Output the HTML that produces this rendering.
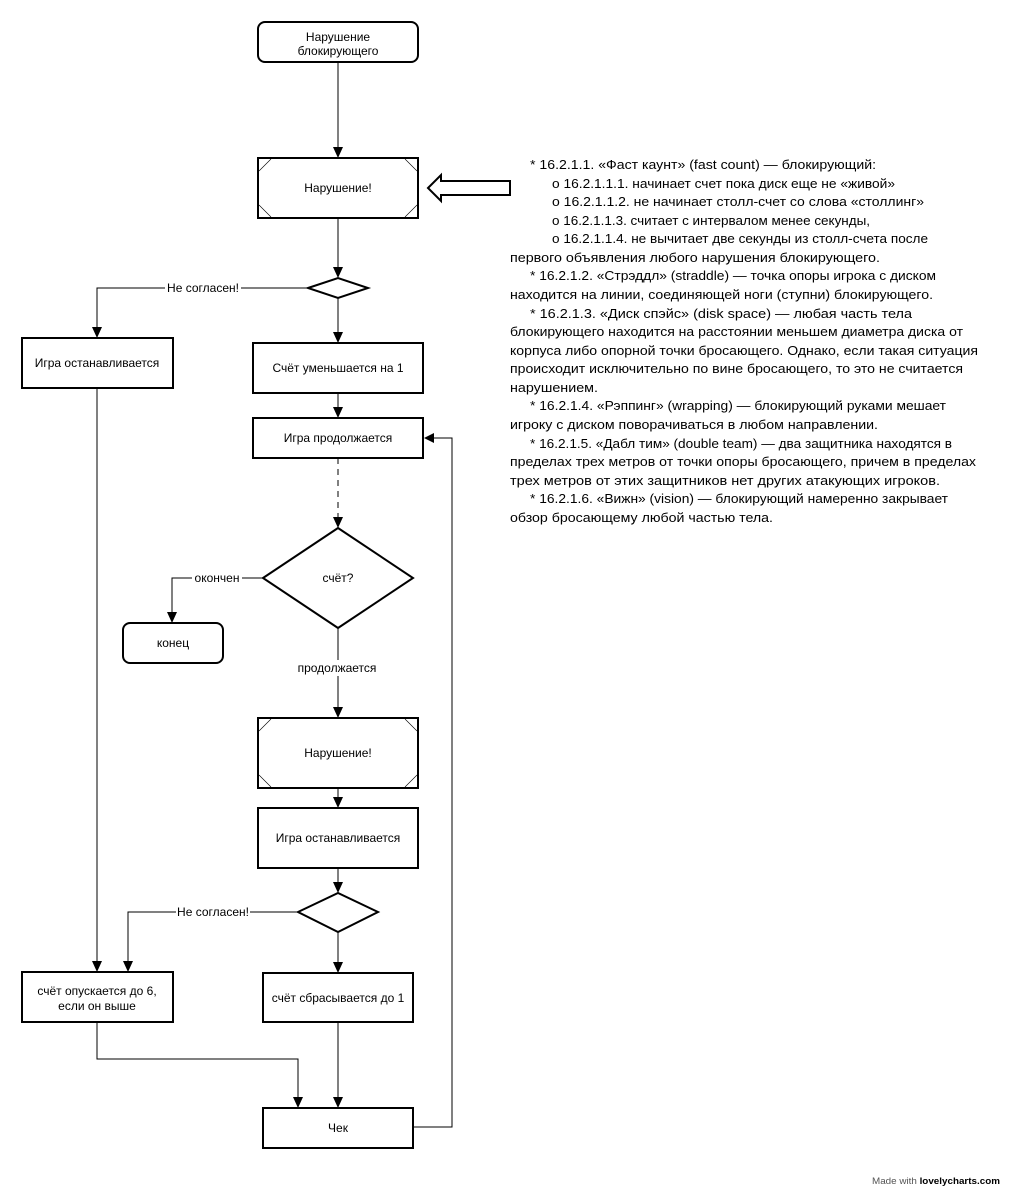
<!DOCTYPE html>
<html><head><meta charset="utf-8"><style>
html,body{margin:0;padding:0;background:#fff;}
svg{display:block;font-family:"Liberation Sans","DejaVu Sans",sans-serif;}
</style></head><body>
<svg width="1009" height="1190" viewBox="0 0 1009 1190" xmlns="http://www.w3.org/2000/svg">
<g fill="none" stroke="#000" stroke-width="1">
<path d="M338,62 V150"/>
<path d="M338,218 V270"/>
<path d="M307,288 H97 V330"/>
<path d="M338,298 V335"/>
<path d="M338,393 V410"/>
<path d="M338,458 V520" stroke-dasharray="6,5"/>
<path d="M262,578 H172 V615"/>
<path d="M338,628 V710"/>
<path d="M338,788 V800"/>
<path d="M338,868 V885"/>
<path d="M297,912 H128 V964"/>
<path d="M338,932 V964"/>
<path d="M97,388 V964"/>
<path d="M97,1022 V1059 H298 V1100"/>
<path d="M338,1022 V1100"/>
<path d="M413,1127 H452 V438 H430"/>
</g>
<g fill="#000">
<polygon points="333,147 343,147 338,158"/>
<polygon points="333,267 343,267 338,278"/>
<polygon points="92,327 102,327 97,338"/>
<polygon points="333,332 343,332 338,343"/>
<polygon points="333,407 343,407 338,418"/>
<polygon points="333,517 343,517 338,528"/>
<polygon points="167,612 177,612 172,623"/>
<polygon points="333,707 343,707 338,718"/>
<polygon points="333,797 343,797 338,808"/>
<polygon points="333,882 343,882 338,893"/>
<polygon points="123,961 133,961 128,972"/>
<polygon points="92,961 102,961 97,972"/>
<polygon points="333,962 343,962 338,973"/>
<polygon points="293,1097 303,1097 298,1108"/>
<polygon points="333,1097 343,1097 338,1108"/>
<polygon points="424,438 434,433 434,443"/>
</g>
<g fill="#fff" stroke="#000" stroke-width="2">
<rect x="258" y="22" width="160" height="40" rx="7"/>
<rect x="258" y="158" width="160" height="60"/>
<polygon points="308,288 338,278 368,288 338,298"/>
<rect x="22" y="338" width="151" height="50"/>
<rect x="253" y="343" width="170" height="50"/>
<rect x="253" y="418" width="170" height="40"/>
<polygon points="263,578 338,528 413,578 338,628"/>
<rect x="123" y="623" width="100" height="40" rx="7"/>
<rect x="258" y="718" width="160" height="70"/>
<rect x="258" y="808" width="160" height="60"/>
<polygon points="298,912 338,893 378,912 338,932"/>
<rect x="22" y="972" width="151" height="50"/>
<rect x="263" y="973" width="150" height="49"/>
<rect x="263" y="1108" width="150" height="40"/>
<path d="M428,188 L441,175 L441,181 L510,181 L510,195 L441,195 L441,201 z"/>
</g>
<g stroke="#000" stroke-width="0.6">
<path d="M259,171 L271,159 M405,159 L417,171 M259,205 L271,217 M405,217 L417,205"/>
<path d="M259,731 L271,719 M405,719 L417,731 M259,775 L271,787 M405,787 L417,775"/>
</g>
<g fill="#fff">
<rect x="165" y="280" width="76" height="16"/>
<rect x="192" y="570" width="50" height="16"/>
<rect x="294" y="660" width="86" height="16"/>
<rect x="176" y="904" width="74" height="16"/>
</g>
<g font-size="12" text-anchor="middle" fill="#000">
<text x="338" y="41">Нарушение</text>
<text x="338" y="55">блокирующего</text>
<text x="338" y="192">Нарушение!</text>
<text x="203" y="292">Не согласен!</text>
<text x="97" y="367">Игра останавливается</text>
<text x="338" y="372">Счёт уменьшается на 1</text>
<text x="338" y="442">Игра продолжается</text>
<text x="338" y="582">счёт?</text>
<text x="217" y="582">окончен</text>
<text x="173" y="647">конец</text>
<text x="337" y="672">продолжается</text>
<text x="338" y="757">Нарушение!</text>
<text x="338" y="842">Игра останавливается</text>
<text x="213" y="916">Не согласен!</text>
<text x="97" y="995">счёт опускается до 6,</text>
<text x="97" y="1010">если он выше</text>
<text x="338" y="1002">счёт сбрасывается до 1</text>
<text x="338" y="1132">Чек</text>
</g>
<g font-size="13" fill="#000">
<text x="530" y="169" textLength="346" lengthAdjust="spacingAndGlyphs">* 16.2.1.1. «Фаст каунт» (fast count) — блокирующий:</text>
<text x="552" y="188" textLength="343" lengthAdjust="spacingAndGlyphs">o 16.2.1.1.1. начинает счет пока диск еще не «живой»</text>
<text x="552" y="206" textLength="372" lengthAdjust="spacingAndGlyphs">o 16.2.1.1.2. не начинает столл-счет со слова «столлинг»</text>
<text x="552" y="225" textLength="318" lengthAdjust="spacingAndGlyphs">o 16.2.1.1.3. считает с интервалом менее секунды,</text>
<text x="552" y="243" textLength="376" lengthAdjust="spacingAndGlyphs">o 16.2.1.1.4. не вычитает две секунды из столл-счета после</text>
<text x="510" y="262" textLength="370" lengthAdjust="spacingAndGlyphs">первого объявления любого нарушения блокирующего.</text>
<text x="530" y="280" textLength="406" lengthAdjust="spacingAndGlyphs">* 16.2.1.2. «Стрэддл» (straddle) — точка опоры игрока с диском</text>
<text x="510" y="299" textLength="423" lengthAdjust="spacingAndGlyphs">находится на линии, соединяющей ноги (ступни) блокирующего.</text>
<text x="530" y="318" textLength="382" lengthAdjust="spacingAndGlyphs">* 16.2.1.3. «Диск спэйс» (disk space) — любая часть тела</text>
<text x="510" y="336" textLength="453" lengthAdjust="spacingAndGlyphs">блокирующего находится на расстоянии меньшем диаметра диска от</text>
<text x="510" y="355" textLength="468" lengthAdjust="spacingAndGlyphs">корпуса либо опорной точки бросающего. Однако, если такая ситуация</text>
<text x="510" y="373" textLength="453" lengthAdjust="spacingAndGlyphs">происходит исключительно по вине бросающего, то это не считается</text>
<text x="510" y="392" textLength="88" lengthAdjust="spacingAndGlyphs">нарушением.</text>
<text x="530" y="410" textLength="416" lengthAdjust="spacingAndGlyphs">* 16.2.1.4. «Рэппинг» (wrapping) — блокирующий руками мешает</text>
<text x="510" y="429" textLength="368" lengthAdjust="spacingAndGlyphs">игроку с диском поворачиваться в любом направлении.</text>
<text x="530" y="448" textLength="422" lengthAdjust="spacingAndGlyphs">* 16.2.1.5. «Дабл тим» (double team) — два защитника находятся в</text>
<text x="510" y="466" textLength="466" lengthAdjust="spacingAndGlyphs">пределах трех метров от точки опоры бросающего, причем в пределах</text>
<text x="510" y="485" textLength="430" lengthAdjust="spacingAndGlyphs">трех метров от этих защитников нет других атакующих игроков.</text>
<text x="530" y="503" textLength="418" lengthAdjust="spacingAndGlyphs">* 16.2.1.6. «Вижн» (vision) — блокирующий намеренно закрывает</text>
<text x="510" y="522" textLength="263" lengthAdjust="spacingAndGlyphs">обзор бросающему любой частью тела.</text>
</g>
<text x="872" y="1184" font-size="9" fill="#555" textLength="128" lengthAdjust="spacingAndGlyphs">Made with <tspan font-weight="bold" fill="#000">lovelycharts.com</tspan></text>
</svg>
</body></html>
